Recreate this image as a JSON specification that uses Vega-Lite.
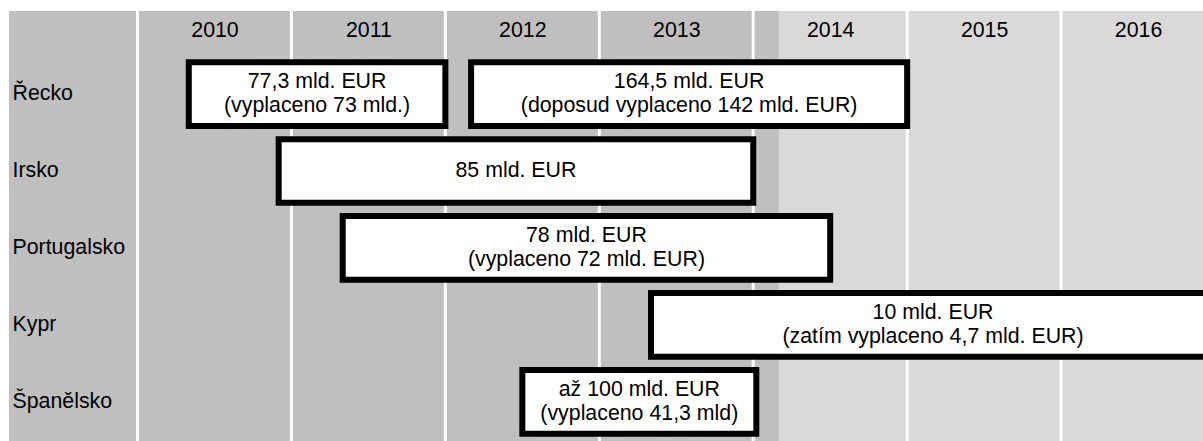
{
  "$schema": "https://vega.github.io/schema/vega-lite/v6.json",
  "width": 1194,
  "height": 430,
  "autosize": {"type": "none"},
  "padding": {"left": 9, "top": 11, "right": 0, "bottom": 0},
  "background": "white",
  "config": {
    "view": {"stroke": null},
    "font": "Liberation Sans",
    "axis": {
      "grid": false,
      "domain": false,
      "ticks": false,
      "tickSize": 0,
      "labelFont": "Liberation Sans",
      "labelFontSize": 21.33,
      "labelColor": "#000000"
    }
  },
  "datasets": {
    "phases": [
      {"phase": "past", "from": 2009, "to": 2014.167},
      {"phase": "future", "from": 2014.167, "to": 2017.5}
    ],
    "years": [
      {"year": 2010}, {"year": 2011}, {"year": 2012}, {"year": 2013},
      {"year": 2014}, {"year": 2015}, {"year": 2016}
    ],
    "programmes": [
      {"country": "Řecko", "from": 2010.333, "to": 2012.0, "label": "77,3 mld. EUR\n(vyplaceno 73 mld.)"},
      {"country": "Řecko", "from": 2012.167, "to": 2015.0, "label": "164,5 mld. EUR\n(doposud vyplaceno 142 mld. EUR)"},
      {"country": "Irsko", "from": 2010.917, "to": 2014.0, "label": "85 mld. EUR"},
      {"country": "Portugalsko", "from": 2011.333, "to": 2014.5, "label": "78 mld. EUR\n(vyplaceno 72 mld. EUR)"},
      {"country": "Kypr", "from": 2013.336, "to": 2017.0, "label": "10 mld. EUR\n(zatím vyplaceno 4,7 mld. EUR)"},
      {"country": "Španělsko", "from": 2012.5, "to": 2014.02, "label": "až 100 mld. EUR\n(vyplaceno 41,3 mld)"}
    ]
  },
  "layer": [
    {
      "data": {"name": "phases"},
      "mark": {"type": "rect", "clip": true},
      "encoding": {
        "x": {
          "field": "from",
          "type": "quantitative",
          "title": null,
          "scale": {"domain": [2009.165, 2016.922], "nice": false, "zero": false},
          "axis": {
            "orient": "top",
            "zindex": 2,
            "values": [2010.5, 2011.5, 2012.5, 2013.5, 2014.5, 2015.5, 2016.5],
            "labelExpr": "'' + floor(datum.value)",
            "labelPadding": -25,
            "labelBaseline": "alphabetic",
            "labelAlign": "center",
            "labelFlush": false,
            "labelOverlap": false
          }
        },
        "x2": {"field": "to"},
        "color": {
          "field": "phase",
          "type": "nominal",
          "scale": {"domain": ["past", "future"], "range": ["#bfbfbf", "#d9d9d9"]},
          "legend": null
        }
      }
    },
    {
      "data": {"name": "years"},
      "mark": {"type": "rule", "color": "#ffffff", "strokeWidth": 3},
      "encoding": {
        "x": {"field": "year", "type": "quantitative", "title": null}
      }
    },
    {
      "data": {"name": "programmes"},
      "mark": {"type": "rect", "fill": "#ffffff", "stroke": "#000000", "strokeWidth": 6},
      "encoding": {
        "x": {"field": "from", "type": "quantitative", "title": null},
        "x2": {"field": "to"},
        "y": {
          "field": "country",
          "type": "nominal",
          "title": null,
          "scale": {
            "domain": ["Řecko", "Irsko", "Portugalsko", "Kypr", "Španělsko"],
            "range": [51.2, 422.7],
            "paddingInner": 0.172,
            "paddingOuter": 0
          },
          "axis": {
            "orient": "left",
            "zindex": 2,
            "labelAlign": "left",
            "labelBaseline": "middle",
            "labelPadding": -3
          }
        }
      }
    },
    {
      "data": {"name": "programmes"},
      "transform": [
        {"filter": "indexof(datum.label, '\\n') >= 0"},
        {"calculate": "(datum.from + datum.to) / 2", "as": "mid"}
      ],
      "mark": {
        "type": "text",
        "font": "Liberation Sans",
        "fontSize": 21.33,
        "color": "#000000",
        "align": "center",
        "baseline": "middle",
        "lineBreak": "\n",
        "lineHeight": 24.5,
        "dy": -12.25
      },
      "encoding": {
        "x": {"field": "mid", "type": "quantitative", "title": null},
        "y": {"field": "country", "type": "nominal", "title": null},
        "text": {"field": "label", "type": "nominal"}
      }
    },
    {
      "data": {"name": "programmes"},
      "transform": [
        {"filter": "indexof(datum.label, '\\n') < 0"},
        {"calculate": "(datum.from + datum.to) / 2", "as": "mid"}
      ],
      "mark": {
        "type": "text",
        "font": "Liberation Sans",
        "fontSize": 21.33,
        "color": "#000000",
        "align": "center",
        "baseline": "middle"
      },
      "encoding": {
        "x": {"field": "mid", "type": "quantitative", "title": null},
        "y": {"field": "country", "type": "nominal", "title": null},
        "text": {"field": "label", "type": "nominal"}
      }
    }
  ]
}
